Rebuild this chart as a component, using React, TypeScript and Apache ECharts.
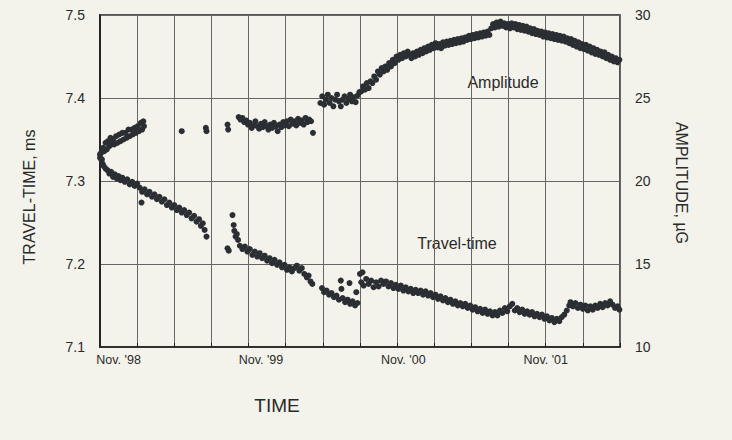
import React, { useEffect, useRef } from "react";
import * as echarts from "echarts";

// x values are months from the left edge of the plot (about mid-Sept 1998)
const xMin = 0;
const xMax = 42;
const xGridStep = 3;
const xLabelMonths = [1.5, 13, 24.5, 36];
const xLabels = ["Nov. '98", "Nov. '99", "Nov. '00", "Nov. '01"];

const ttTicks = [7.1, 7.2, 7.3, 7.4, 7.5];
const ampTicks = [10, 15, 20, 25, 30];

// Travel-time, ms (left axis)
const travelTime: [number, number][] = [
  [0.0,7.332],[0.1,7.326],[0.2,7.321],[0.3,7.318],[0.45,7.315],[0.6,7.313],[0.75,7.309],[0.9,7.311],
  [1.05,7.305],[1.2,7.308],[1.35,7.303],[1.5,7.306],[1.65,7.301],[1.8,7.304],[2.0,7.299],[2.2,7.302],
  [2.4,7.296],[2.6,7.299],[2.8,7.294],[3.0,7.297],[3.2,7.292],[3.35,7.274],[3.4,7.287],[3.6,7.290],
  [3.8,7.284],[4.0,7.287],[4.2,7.281],[4.4,7.284],[4.6,7.278],[4.8,7.281],[5.0,7.275],[5.2,7.278],
  [5.4,7.271],[5.6,7.274],[5.8,7.268],[6.0,7.271],[6.2,7.265],[6.4,7.268],[6.6,7.262],[6.8,7.265],
  [7.0,7.259],[7.2,7.262],[7.4,7.255],[7.6,7.258],[7.8,7.251],[8.0,7.254],[8.15,7.246],[8.3,7.249],
  [8.45,7.241],[8.6,7.233],
  [10.3,7.219],[10.4,7.216],[10.7,7.259],[10.8,7.247],[10.85,7.240],[10.95,7.233],[11.05,7.236],[11.15,7.229],
  [11.3,7.222],[11.5,7.218],[11.7,7.221],[11.9,7.215],[12.1,7.218],[12.3,7.211],[12.5,7.215],[12.7,7.209],
  [12.9,7.213],[13.1,7.207],[13.3,7.210],[13.5,7.204],[13.7,7.207],[13.9,7.201],[14.1,7.205],[14.3,7.199],
  [14.5,7.202],[14.7,7.196],[14.9,7.199],[15.1,7.193],[15.3,7.196],[15.5,7.191],[15.7,7.195],[15.9,7.198],
  [16.1,7.192],[16.3,7.195],[16.5,7.188],[16.7,7.184],[16.85,7.186],[17.0,7.179],[17.15,7.176],
  [17.93,7.171],[18.1,7.166],[18.3,7.168],[18.5,7.163],[18.7,7.165],[18.9,7.160],[19.1,7.162],[19.3,7.157],
  [19.45,7.180],[19.5,7.170],[19.6,7.159],[19.8,7.154],[20.0,7.157],[20.15,7.177],[20.2,7.152],[20.4,7.155],
  [20.6,7.150],[20.7,7.166],[20.8,7.153],
  [21.0,7.188],[21.1,7.178],[21.2,7.190],[21.3,7.174],[21.5,7.182],[21.7,7.176],[21.9,7.180],[22.1,7.172],
  [22.3,7.178],[22.5,7.173],[22.7,7.180],[22.9,7.176],[23.1,7.179],[23.3,7.173],[23.5,7.177],[23.7,7.171],
  [23.9,7.175],[24.1,7.170],[24.3,7.174],[24.5,7.168],[24.7,7.172],[24.9,7.167],[25.1,7.170],[25.3,7.165],
  [25.5,7.169],[25.7,7.165],[25.9,7.168],[26.1,7.163],[26.3,7.167],[26.5,7.162],[26.7,7.165],[26.9,7.160],
  [27.1,7.163],[27.3,7.158],[27.5,7.161],[27.7,7.156],[27.9,7.159],[28.1,7.154],[28.3,7.157],[28.5,7.152],
  [28.7,7.155],[28.9,7.150],[29.1,7.153],[29.3,7.149],[29.5,7.152],[29.7,7.147],[29.9,7.150],[30.1,7.145],
  [30.3,7.148],[30.5,7.143],[30.7,7.146],[30.9,7.141],[31.1,7.145],[31.3,7.140],[31.5,7.143],[31.7,7.138],
  [31.9,7.142],[32.1,7.138],[32.3,7.144],[32.5,7.141],[32.7,7.147],[32.9,7.143],[33.1,7.149],[33.3,7.152],
  [33.5,7.144],[33.7,7.147],[33.9,7.142],[34.1,7.145],[34.3,7.140],[34.5,7.143],[34.7,7.139],[34.9,7.142],
  [35.1,7.137],[35.3,7.140],[35.5,7.136],[35.7,7.139],[35.9,7.134],[36.1,7.137],[36.3,7.132],[36.5,7.135],
  [36.7,7.130],[36.9,7.134],[37.1,7.131],[37.3,7.136],[37.5,7.139],[37.7,7.144],[37.9,7.150],[38.0,7.154],
  [38.2,7.149],[38.4,7.153],[38.6,7.147],[38.8,7.151],[39.0,7.146],[39.2,7.150],[39.4,7.144],[39.6,7.149],
  [39.8,7.145],[40.0,7.150],[40.2,7.147],[40.4,7.152],[40.6,7.148],[40.8,7.153],[41.0,7.150],[41.2,7.155],
  [41.4,7.151],[41.6,7.147],[41.8,7.149],[41.95,7.145]
];

// Amplitude, µG (right axis)
const amplitude: [number, number][] = [
  [0.0,21.4],[0.1,21.7],[0.15,21.3],[0.25,22.0],[0.35,21.8],[0.45,22.3],[0.55,21.9],[0.65,22.4],
  [0.75,22.1],[0.85,22.6],[0.95,22.2],[1.05,22.5],[1.15,22.2],[1.3,22.7],[1.4,22.3],[1.55,22.8],
  [1.65,22.4],[1.8,22.9],[1.9,22.5],[2.05,22.9],[2.15,22.6],[2.3,23.1],[2.4,22.7],[2.55,23.1],
  [2.65,22.8],[2.8,23.2],[2.9,22.9],[3.05,23.3],[3.15,23.0],[3.3,23.5],[3.4,23.1],[3.5,23.6],[3.55,23.3],
  [6.6,23.0],[8.55,23.2],[8.6,23.0],[10.3,23.4],[10.35,23.1],
  [11.2,23.85],[11.35,23.7],[11.5,23.8],[11.65,23.55],[11.8,23.65],[11.95,23.4],[12.1,23.5],[12.25,23.2],
  [12.4,23.35],[12.55,23.6],[12.7,23.3],[12.85,23.15],[13.0,23.45],[13.15,23.25],[13.3,23.55],[13.45,23.3],
  [13.6,23.1],[13.75,23.4],[13.9,23.2],[14.05,23.5],[14.2,23.3],[14.35,23.0],[14.5,23.4],[14.65,23.25],
  [14.8,23.55],[14.95,23.35],[15.1,23.6],[15.25,23.3],[15.4,23.7],[15.55,23.45],[15.7,23.6],[15.85,23.35],
  [16.0,23.75],[16.15,23.5],[16.3,23.65],[16.45,23.4],[16.6,23.8],[16.75,23.55],[16.9,23.7],[17.05,23.6],[17.2,22.9],
  [17.8,24.7],[17.95,25.1],[18.1,24.6],[18.25,24.9],[18.4,25.2],[18.55,24.7],[18.7,25.0],[18.85,24.5],
  [19.0,24.9],[19.15,25.2],[19.3,24.8],[19.45,24.5],[19.6,24.9],[19.75,25.1],[19.9,24.7],[20.05,24.95],
  [20.2,25.2],[20.35,24.8],[20.5,25.05],[20.65,24.75],[20.8,25.15],[20.95,25.35],
  [21.1,25.4],[21.25,25.7],[21.4,25.5],[21.55,25.9],[21.7,25.6],[21.85,26.0],
  [22.0,25.9],[22.15,26.3],[22.3,26.1],[22.45,26.6],[22.6,26.4],[22.75,26.8],[22.9,26.6],[23.05,26.9],[23.2,26.7],
  [23.35,27.1],[23.5,26.9],[23.65,27.3],[23.8,27.1],[23.95,27.5],[24.1,27.3],[24.25,27.6],
  [24.4,27.4],[24.55,27.7],[24.7,27.5],[24.85,27.8],[25.0,27.6],[25.15,27.4],[25.3,27.7],[25.45,27.5],[25.6,27.8],
  [25.75,27.6],[25.9,27.9],[26.05,27.7],[26.2,28.0],[26.35,27.8],[26.5,28.1],[26.65,27.9],
  [26.8,28.2],[26.95,28.0],[27.1,28.3],[27.25,28.05],[27.4,28.25],[27.55,28.0],[27.7,28.35],[27.85,28.15],
  [28.0,28.4],[28.15,28.2],
  [28.3,28.45],[28.45,28.25],[28.6,28.5],[28.75,28.3],[28.9,28.55],[29.05,28.35],[29.2,28.6],[29.35,28.4],[29.5,28.65],
  [29.65,28.5],[29.8,28.75],[29.95,28.55],[30.1,28.8],[30.25,28.6],[30.4,28.85],[30.55,28.65],[30.7,28.9],
  [30.85,28.7],[31.0,28.95],[31.15,28.75],[31.3,29.0],[31.45,28.8],
  [31.6,29.2],[31.75,29.45],[31.9,29.25],[32.05,29.55],[32.2,29.3],[32.35,29.6],[32.5,29.35],[32.65,29.5],[32.8,29.25],
  [32.95,29.45],[33.1,29.2],[33.25,29.5],[33.4,29.25],[33.55,29.45],[33.7,29.15],[33.85,29.4],[34.0,29.1],[34.15,29.35],
  [34.3,29.05],[34.45,29.3],[34.6,29.0],[34.75,29.2],[34.9,28.9],[35.05,29.15],[35.2,28.85],
  [35.35,29.05],[35.5,28.8],[35.65,29.0],[35.8,28.7],[35.95,28.95],[36.1,28.65],[36.25,28.9],
  [36.4,28.6],[36.55,28.85],[36.7,28.55],[36.85,28.8],[37.0,28.5],[37.15,28.75],[37.3,28.45],[37.45,28.7],[37.6,28.4],
  [37.75,28.6],[37.9,28.3],[38.05,28.55],[38.2,28.2],[38.35,28.45],[38.5,28.1],[38.65,28.35],[38.8,28.0],[38.95,28.25],
  [39.1,27.95],[39.25,28.2],[39.4,27.85],[39.55,28.1],[39.7,27.75],[39.85,28.0],[40.0,27.65],[40.15,27.9],[40.3,27.6],[40.45,27.8],
  [40.6,27.5],[40.75,27.75],[40.9,27.4],[41.05,27.6],[41.2,27.3],[41.35,27.5],[41.5,27.2],[41.65,27.4],[41.8,27.15],[41.95,27.3]
];

const BG = "#f3f3eb";
const INK = "#2b2f34";
const FONT = "'Liberation Sans', Arial, sans-serif";

export default function App() {
  const ref = useRef<HTMLDivElement>(null);

  useEffect(() => {
    if (!ref.current) return;
    const chart = echarts.init(ref.current, undefined, { renderer: "svg" });
    chart.setOption({
      animation: false,
      backgroundColor: BG,
      grid: {
        left: 100,
        right: 112,
        top: 15,
        bottom: 93,
        show: true,
        borderColor: "#222",
        borderWidth: 1.5,
        backgroundColor: "transparent",
      },
      xAxis: [
        {
          type: "value",
          min: xMin,
          max: xMax,
          interval: xGridStep,
          axisLine: { show: true, lineStyle: { color: "#222", width: 1.5 } },
          axisTick: { show: true, inside: true, length: 4, lineStyle: { color: "#222" } },
          axisLabel: { show: false },
          splitLine: { show: true, lineStyle: { color: "#666", width: 1 } },
        },
        {
          type: "value",
          min: xMin,
          max: xMax,
          interval: 0.5,
          position: "bottom",
          axisLine: { show: false },
          axisTick: { show: false },
          splitLine: { show: false },
          axisLabel: {
            show: true,
            margin: 6,
            fontSize: 12.5,
            fontFamily: FONT,
            color: "#2a2a2a",
            formatter: (v: number) => {
              const i = xLabelMonths.findIndex((m) => Math.abs(m - v) < 0.01);
              return i >= 0 ? xLabels[i] : "";
            },
          },
        },
      ],
      yAxis: [
        {
          type: "value",
          min: ttTicks[0],
          max: ttTicks[ttTicks.length - 1],
          interval: 0.1,
          position: "left",
          axisLine: { show: true, lineStyle: { color: "#222", width: 1.5 } },
          axisTick: { show: false },
          axisLabel: {
            margin: 15,
            fontSize: 14,
            fontFamily: FONT,
            color: "#2a2a2a",
            formatter: (v: number) => v.toFixed(1),
          },
          splitLine: { show: true, lineStyle: { color: "#666", width: 1 } },
        },
        {
          type: "value",
          min: ampTicks[0],
          max: ampTicks[ampTicks.length - 1],
          interval: 5,
          position: "right",
          axisLine: { show: true, lineStyle: { color: "#222", width: 1.5 } },
          axisTick: { show: false },
          axisLabel: {
            margin: 15,
            fontSize: 14,
            fontFamily: FONT,
            color: "#2a2a2a",
          },
          splitLine: { show: false },
        },
      ],
      series: [
        {
          name: "Travel-time",
          type: "scatter",
          xAxisIndex: 0,
          yAxisIndex: 0,
          data: travelTime,
          symbolSize: 6,
          itemStyle: { color: INK, opacity: 1 },
        },
        {
          name: "Amplitude",
          type: "scatter",
          xAxisIndex: 0,
          yAxisIndex: 1,
          data: amplitude,
          symbolSize: 6,
          itemStyle: { color: INK, opacity: 1 },
        },
      ],
      graphic: [
        {
          type: "text",
          x: 29,
          y: 197,
          rotation: Math.PI / 2,
          style: {
            text: "TRAVEL-TIME, ms",
            fontSize: 16,
            fontFamily: FONT,
            fill: "#2a2a2a",
            align: "center",
            verticalAlign: "middle",
          },
        },
        {
          type: "text",
          x: 681,
          y: 183,
          rotation: -Math.PI / 2,
          style: {
            text: "AMPLITUDE, µG",
            fontSize: 16,
            fontFamily: FONT,
            fill: "#2a2a2a",
            align: "center",
            verticalAlign: "middle",
          },
        },
        {
          type: "text",
          x: 277,
          y: 405,
          style: {
            text: "TIME",
            fontSize: 19,
            fontFamily: FONT,
            fill: "#2a2a2a",
            align: "center",
            verticalAlign: "middle",
          },
        },
        {
          type: "text",
          x: 503,
          y: 82,
          style: {
            text: "Amplitude",
            fontSize: 16,
            fontFamily: FONT,
            fill: "#2a2a2a",
            align: "center",
            verticalAlign: "middle",
          },
        },
        {
          type: "text",
          x: 457,
          y: 243,
          style: {
            text: "Travel-time",
            fontSize: 16,
            fontFamily: FONT,
            fill: "#2a2a2a",
            align: "center",
            verticalAlign: "middle",
          },
        },
      ],
    });
    return () => chart.dispose();
  }, []);

  return (
    <div
      ref={ref}
      style={{ position: "fixed", left: 0, top: 0, width: 732, height: 440, background: BG }}
    />
  );
}
